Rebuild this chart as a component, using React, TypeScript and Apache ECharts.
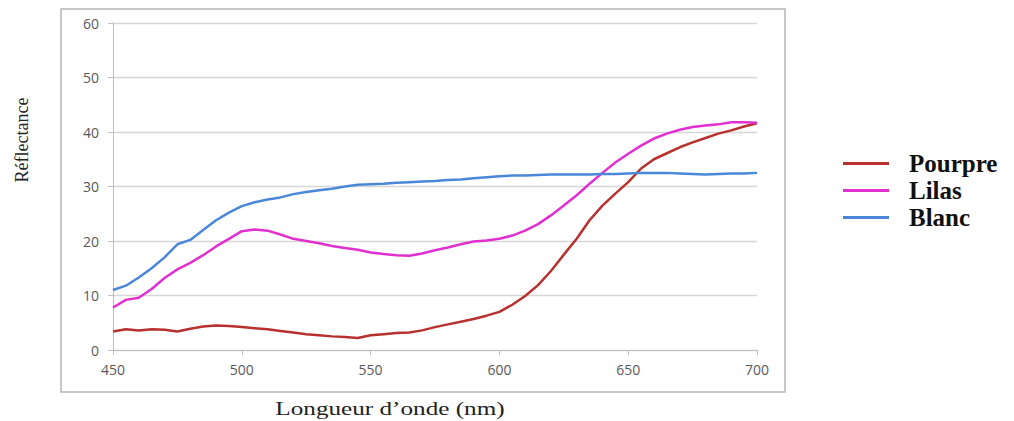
import React, { useEffect, useRef } from "react";
import * as echarts from "echarts";

const wavelengths = [
  450, 455, 460, 465, 470, 475, 480, 485, 490, 495, 500, 505, 510, 515, 520, 525, 530, 535, 540, 545,
  550, 555, 560, 565, 570, 575, 580, 585, 590, 595, 600, 605, 610, 615, 620, 625, 630, 635, 640, 645,
  650, 655, 660, 665, 670, 675, 680, 685, 690, 695, 700,
];

const pourpre = [
  3.4, 3.8, 3.6, 3.8, 3.7, 3.4, 3.9, 4.3, 4.5, 4.4, 4.2, 4.0, 3.8, 3.5, 3.2, 2.9, 2.7, 2.5, 2.4, 2.2,
  2.7, 2.9, 3.1, 3.2, 3.6, 4.2, 4.7, 5.2, 5.7, 6.3, 7.0, 8.3, 9.9, 11.9, 14.5, 17.5, 20.4, 23.8, 26.5, 28.7,
  30.8, 33.3, 35.0, 36.1, 37.2, 38.1, 38.9, 39.7, 40.3, 41.0, 41.6,
];

const lilas = [
  7.8, 9.2, 9.6, 11.2, 13.2, 14.8, 16.0, 17.4, 19.0, 20.4, 21.8, 22.1, 21.9, 21.2, 20.4, 20.0, 19.6, 19.1, 18.7, 18.4,
  17.9, 17.6, 17.4, 17.3, 17.7, 18.3, 18.8, 19.4, 19.9, 20.1, 20.4, 21.0, 21.9, 23.1, 24.7, 26.5, 28.4, 30.5, 32.5, 34.4,
  36.0, 37.5, 38.8, 39.7, 40.4, 40.9, 41.2, 41.4, 41.8, 41.8, 41.7,
];

const blanc = [
  11.0, 11.8, 13.3, 15.0, 17.0, 19.4, 20.2, 22.0, 23.8, 25.2, 26.4, 27.1, 27.6, 28.0, 28.6, 29.0, 29.3, 29.6, 30.0, 30.3,
  30.4, 30.5, 30.7, 30.8, 30.9, 31.0, 31.2, 31.3, 31.5, 31.7, 31.9, 32.0, 32.0, 32.1, 32.2, 32.2, 32.2, 32.2, 32.3, 32.3,
  32.4, 32.5, 32.5, 32.5, 32.4, 32.3, 32.2, 32.3, 32.4, 32.4, 32.5,
];

const seriesNames = ["Pourpre", "Lilas", "Blanc"];
const seriesColors = ["#b8312f", "#e22fd0", "#4a87d8"];
const xTitle = "Longueur d\u2019onde (nm)";
const yTitle = "R\u00e9flectance";

export default function App() {
  const ref = useRef<HTMLDivElement>(null);

  useEffect(() => {
    if (!ref.current) return;
    const chart = echarts.init(ref.current, undefined, { renderer: "svg" });
    const allValues = [pourpre, lilas, blanc];
    chart.setOption({
      animation: false,
      backgroundColor: "#ffffff",
      grid: { left: 113, right: 257, top: 23, bottom: 71 },
      xAxis: {
        type: "value",
        min: 450,
        max: 700,
        interval: 50,
        axisLine: { show: true, lineStyle: { color: "#bfbfbf", width: 1 } },
        axisTick: { show: true, length: 5, lineStyle: { color: "#bfbfbf" } },
        splitLine: { show: false },
        axisLabel: { color: "#595959", fontSize: 14, fontFamily: "Open Sans", margin: 12 },
      },
      yAxis: {
        type: "value",
        min: 0,
        max: 60,
        interval: 10,
        axisLine: { show: true, lineStyle: { color: "#bfbfbf", width: 1 } },
        axisTick: { show: true, length: 5, lineStyle: { color: "#bfbfbf" } },
        splitLine: { show: true, lineStyle: { color: "#d6d6d6", width: 1.3 } },
        axisLabel: { color: "#595959", fontSize: 14, fontFamily: "Open Sans", margin: 14 },
      },
      legend: {
        orient: "vertical",
        left: 838,
        top: 146,
        itemWidth: 46,
        itemHeight: 3,
        itemGap: 2,
        icon: "rect",
        textStyle: {
          fontFamily: "Liberation Serif",
          fontWeight: "bold",
          fontSize: 25,
          color: "#111111",
          padding: [0, 0, 0, 15],
        },
        data: seriesNames,
      },
      graphic: [
        {
          type: "rect",
          shape: { x: 61, y: 9, width: 724, height: 383 },
          style: { fill: "none", stroke: "#b5b5b5", lineWidth: 1.5 },
          silent: true,
        },
        {
          type: "text",
          x: 390,
          y: 409,
          scaleX: 1.4,
          style: {
            text: xTitle,
            font: "18px 'Liberation Serif'",
            fill: "#222222",
            textAlign: "center",
            textVerticalAlign: "middle",
          },
        },
        {
          type: "text",
          x: 22,
          y: 140,
          rotation: Math.PI / 2,
          style: {
            text: yTitle,
            font: "18px 'Liberation Serif'",
            fill: "#222222",
            textAlign: "center",
            textVerticalAlign: "middle",
          },
        },
      ],
      series: seriesNames.map((name, k) => ({
        name,
        type: "line",
        showSymbol: false,
        symbol: "none",
        smooth: false,
        lineStyle: { color: seriesColors[k], width: 2.5 },
        itemStyle: { color: seriesColors[k] },
        data: wavelengths.map((w, i) => [w, allValues[k][i]]),
      })),
    });
    return () => chart.dispose();
  }, []);

  return (
    <div
      ref={ref}
      style={{ position: "absolute", left: 0, top: 0, width: 1014, height: 421 }}
    />
  );
}
